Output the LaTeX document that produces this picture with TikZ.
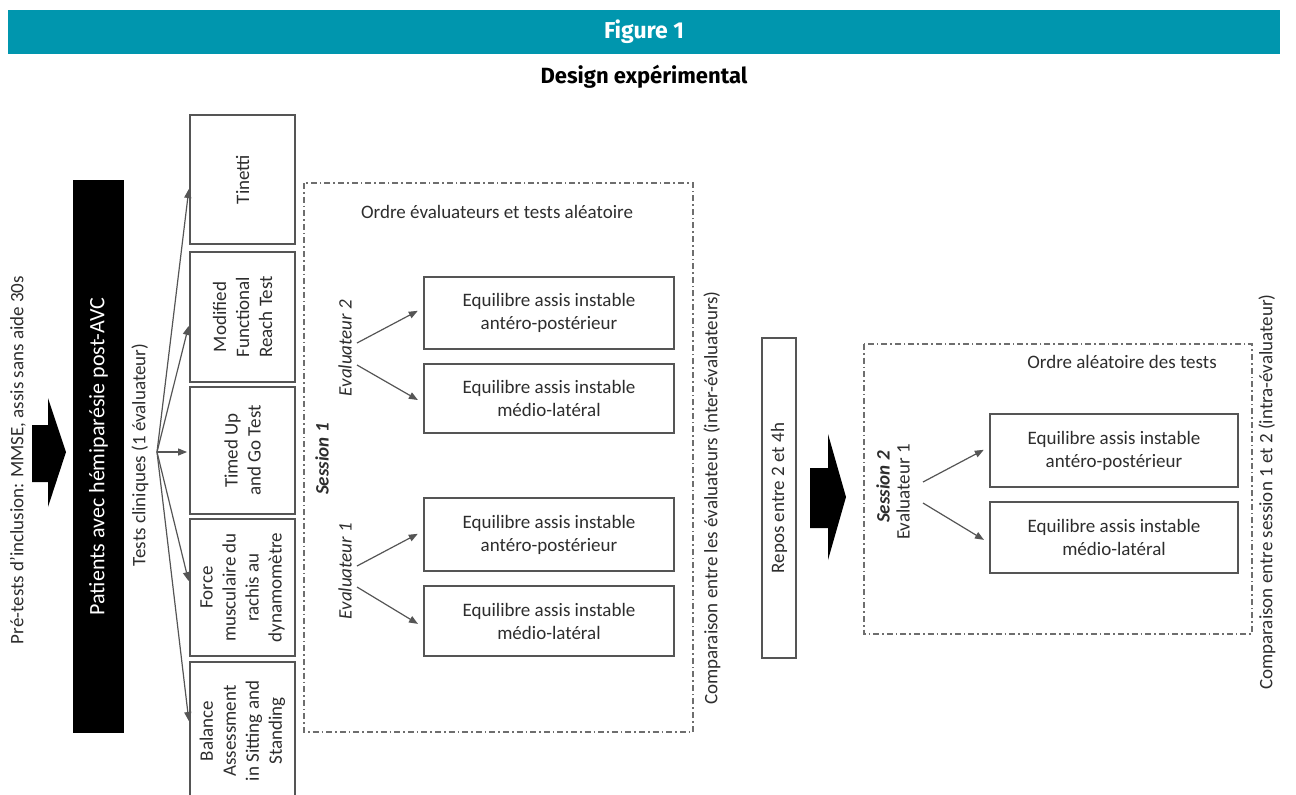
\documentclass[tikz,border=0pt]{standalone}
\usepackage{fontspec}
\setmainfont{Carlito}
\newfontfamily\headfont{Fira Sans}
\usetikzlibrary{arrows.meta}
\definecolor{figteal}{RGB}{0,150,174}
\definecolor{ink}{RGB}{45,45,45}
\definecolor{rule}{RGB}{85,85,85}

\begin{document}
\begin{tikzpicture}[x=0.5pt,y=-0.5pt,
    every node/.style={text=ink,font=\fontsize{9.5}{12}\selectfont},
    testbox/.style={draw=rule,line width=0.9pt,rotate=90,minimum height=52.5pt,
      align=center,inner sep=1pt,font=\fontsize{9.5}{11.5}\selectfont},
    evbox/.style={draw=rule,line width=0.9pt,minimum width=125pt,minimum height=35.5pt,
      align=center,font=\fontsize{9.5}{11.5}\selectfont},
    vlabel/.style={rotate=90,inner sep=0pt},
    dashbox/.style={draw=rule!85,line width=0.8pt,
      dash pattern=on 3pt off 1.5pt on 0.8pt off 1.5pt},
    link/.style={draw=rule,line width=0.6pt,shorten >=1pt,
      -{Triangle[length=4.5pt,width=3.5pt]}},
    bigarrow/.style={fill=black}]
  \useasboundingbox (0,0) rectangle (1296,794);

  % header
  \fill[figteal] (8,10) rectangle (1280,54);
  \node[text=white,font=\headfont\bfseries\fontsize{11.5}{14}\selectfont] (fig) at (644,32) {Figure 1};
  \node[text=black,font=\headfont\bfseries\fontsize{11}{13}\selectfont] (design) at (644,77) {Design expérimental};

  % inclusion
  \node[vlabel] (pre) at (18,460) {Pré-tests d'inclusion: MMSE, assis sans aide 30s};
  \fill[bigarrow] (32,425) -- (48,425) -- (48,398) -- (66,452) -- (48,507) -- (48,482) -- (32,482) -- cycle;
  \node[fill=black,rotate=90,minimum width=276.5pt,minimum height=25.5pt,text=white,
    font=\fontsize{11}{13}\selectfont] (pat) at (98.5,456.5) {Patients avec hémiparésie post-AVC};
  \node[vlabel] (tests) at (140,455) {Tests cliniques (1 évaluateur)};
  \coordinate (fan) at (157,452);

  % clinical tests
  \node[testbox,minimum width=64.5pt] (tin) at (242.5,179.5) {Tinetti};
  \node[testbox,minimum width=65pt] (mfrt) at (242.5,317) {Modified\\Functional\\Reach Test};
  \node[testbox,minimum width=63.5pt] (tug) at (242.5,450.5) {Timed Up\\and Go Test};
  \node[testbox,minimum width=68.5pt] (force) at (242.5,587.5) {Force\\musculaire du\\rachis au\\dynamomètre};
  \node[testbox,minimum width=69pt] (bal) at (242.5,731) {Balance\\Assessment\\in Sitting and\\Standing};
  \draw[link] (fan) -- ([yshift=-3.75pt]tin.north);
  \draw[link] (fan) -- ([yshift=-3.5pt]mfrt.north);
  \draw[link] (fan) -- ([yshift=-0.75pt]tug.north);
  \draw[link] (fan) -- ([yshift=2.25pt]force.north);
  \draw[link] (fan) -- ([yshift=4pt]bal.north);

  % session 1
  \draw[dashbox] (304,183) rectangle (693,732);
  \node (ordre1) at (497,212) {Ordre évaluateurs et tests aléatoire};
  \node[vlabel,font=\fontsize{9.5}{12}\selectfont\itshape] (ev2) at (345,348) {Evaluateur 2};
  \node[vlabel,font=\fontsize{9.5}{12}\selectfont\bfseries\itshape] (ses1) at (322,459) {Session 1};
  \node[vlabel,font=\fontsize{9.5}{12}\selectfont\itshape] (ev1) at (345,571) {Evaluateur 1};
  \node[evbox,minimum height=36pt] (e2a) at (549,313) {Equilibre assis instable\\antéro-postérieur};
  \node[evbox,minimum height=34.5pt] (e2b) at (549,398.5) {Equilibre assis instable\\médio-latéral};
  \node[evbox,minimum height=36.5pt] (e1a) at (549,534.5) {Equilibre assis instable\\antéro-postérieur};
  \node[evbox,minimum height=35pt] (e1b) at (549,621) {Equilibre assis instable\\médio-latéral};
  \coordinate (ev2a) at (357,343);
  \coordinate (ev2b) at (357,365);
  \coordinate (ev1a) at (357,566);
  \coordinate (ev1b) at (357,587);
  \draw[link,shorten >=3pt] (ev2a) -- ([yshift=2.5pt]e2a.west);
  \draw[link,shorten >=3pt] (ev2b) -- ([yshift=-2.25pt]e2b.west);
  \draw[link,shorten >=3pt] (ev1a) -- ([yshift=1.75pt]e1a.west);
  \draw[link,shorten >=3pt] (ev1b) -- ([yshift=-3pt]e1b.west);
  \node[vlabel] (inter) at (712,498) {Comparaison entre les évaluateurs (inter-évaluateurs)};

  % rest
  \node[testbox,minimum width=160pt,minimum height=17pt] (repos) at (779,498) {Repos entre 2 et 4h};
  \fill[bigarrow] (810,468) -- (828,468) -- (828,434) -- (846,497) -- (828,560) -- (828,528) -- (810,528) -- cycle;

  % session 2
  \draw[dashbox] (864,344) rectangle (1252,634);
  \node (ordre2) at (1122,362) {Ordre aléatoire des tests};
  \node[vlabel,font=\fontsize{9.5}{12}\selectfont\bfseries\itshape] (ses2) at (883,487) {Session 2};
  \node[vlabel] (ev1s2) at (903,492) {Evaluateur 1};
  \node[evbox,minimum width=124pt,minimum height=36.5pt] (s2a) at (1114,450.5) {Equilibre assis instable\\antéro-postérieur};
  \node[evbox,minimum width=124pt,minimum height=35.5pt] (s2b) at (1114,537.5) {Equilibre assis instable\\médio-latéral};
  \coordinate (s2up) at (923,482);
  \coordinate (s2dn) at (923,503);
  \draw[link,shorten >=3pt] (s2up) -- ([yshift=1.75pt]s2a.west);
  \draw[link,shorten >=3pt] (s2dn) -- ([yshift=-2.75pt]s2b.west);
  \node[vlabel] (intra) at (1267,492) {Comparaison entre session 1 et 2 (intra-évaluateur)};
\end{tikzpicture}
\end{document}
